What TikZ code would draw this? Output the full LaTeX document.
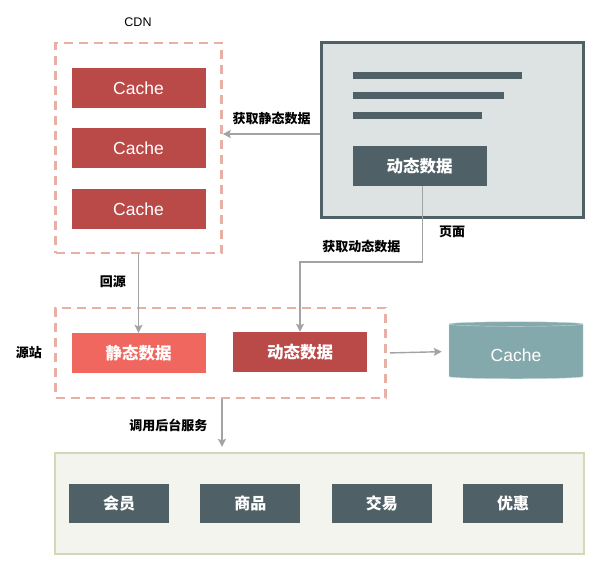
\documentclass[tikz,border=0pt]{standalone}
\usepackage{fontspec}
\setmainfont{Noto Sans CJK SC}
\newfontfamily\latinfont{Liberation Sans}
\usetikzlibrary{positioning,arrows.meta,shapes.geometric}
\definecolor{cachered}{HTML}{B94A48}
\definecolor{staticred}{HTML}{F0675F}
\definecolor{slate}{HTML}{4F6066}
\definecolor{pagegray}{HTML}{DDE2E2}
\definecolor{dashpink}{HTML}{EAAFA4}
\definecolor{arrgray}{HTML}{A3A3A3}
\definecolor{cacheteal}{HTML}{84A9AC}
\definecolor{cachetealline}{HTML}{C4D8D9}
\definecolor{backfill}{HTML}{F3F4EE}
\definecolor{backline}{HTML}{D3D8B6}

\begin{document}
\begin{tikzpicture}[x=1pt, y=-1pt, node distance=20pt,
        box/.style = {minimum width=134pt, minimum height=40pt, inner sep=0pt, text=white, font=\fontsize{16.5}{17}\selectfont\bfseries},
        cachebox/.style = {box, fill=cachered, font=\latinfont\fontsize{17.5}{18}\selectfont},
        slatebox/.style = {box, fill=slate},
        servicebox/.style = {slatebox, minimum width=100pt, minimum height=39pt, font=\fontsize{16}{17}\selectfont\bfseries},
        dashbox/.style = {draw=dashpink, line width=2.6pt, dash pattern=on 9pt off 6pt, inner sep=0pt},
        lbl/.style = {font=\fontsize{13}{14}\selectfont\bfseries, inner sep=0pt},
        arr/.style = {draw=arrgray, line width=1.4pt, -{Stealth[length=8pt, width=8pt, inset=1.5pt]}},
        textbar/.style = {draw=slate, line width=7pt}]
        \useasboundingbox (0,0) rectangle (611,564);

        \node[dashbox, minimum width=166pt, minimum height=210pt] (cdn) at (138.5,148) {};
        \node[lbl, font=\latinfont\fontsize{12.5}{13}\selectfont] (cdnlabel) at (138,22) {CDN};
        \node[cachebox] (c1) at (138.5,88) {Cache};
        \node[cachebox] (c2) [below = of c1] {Cache};
        \node[cachebox] (c3) [below = of c2] {Cache};

        \node[draw=slate, fill=pagegray, line width=2.2pt, minimum width=262pt, minimum height=175pt, inner sep=0pt] (page) at (452.5,130) {};
        \foreach \y/\x in {75.5/522, 95.5/504, 116/482}
            \draw[textbar] (353,\y) -- (\x,\y);
        \node[slatebox] (pagedyn) at (419.5,166) {动态数据};
        \node[lbl] (pagelabel) at (452,232) {页面};

        \node[dashbox, minimum width=330pt, minimum height=90pt] (origin) at (220.5,353) {};
        \node[lbl] (originlabel) at (29,353) {源站};
        \node[box, fill=staticred] (static) at (138.5,353) {静态数据};
        \node[box, fill=cachered] (dynamic) at (300,352) {动态数据};

        \node[cylinder, shape border rotate=90, aspect=0.09, draw=cachetealline, fill=cacheteal, thin, minimum width=134pt, minimum height=57pt, inner sep=0pt, text=white, font=\latinfont\fontsize{17.5}{18}\selectfont] (cache) at (516,351.5) {\raisebox{-10pt}[0pt][0pt]{Cache}};

        \node[draw=backline, fill=backfill, line width=2.2pt, minimum width=529pt, minimum height=101pt, inner sep=0pt] (backend) at (319.5,503.5) {};
        \node[servicebox] (s1) at (119,503.5) {会员};
        \node[servicebox] (s2) [right = 31pt of s1] {商品};
        \node[servicebox] (s3) [right = 31pt of s2] {交易};
        \node[servicebox] (s4) [right = 31pt of s3] {优惠};

        \coordinate (bend) at (300,262);
        \draw[arr] ([yshift=-4pt]page.west) -- ([yshift=-4pt]page.west -| cdn.east) node [lbl, midway, above=8pt] {获取静态数据};
        \draw[arr] (cdn.south) -- (static.north) node [lbl, pos=0.35, left=12pt] {回源};
        \draw[arr] ([xshift=3pt]pagedyn.south) |- (bend) node [lbl, pos=0.75, above=8pt] {获取动态数据} -- (dynamic.north);
        \draw[arr, shorten <=3pt, shorten >=7pt] (origin.east) -- (cache.west);
        \draw[arr, shorten >=5pt] ([xshift=1.5pt]origin.south) -- ([xshift=1.5pt]origin.south |- backend.north) node [lbl, midway, left=14pt] {调用后台服务};
    \end{tikzpicture}
\end{document}
